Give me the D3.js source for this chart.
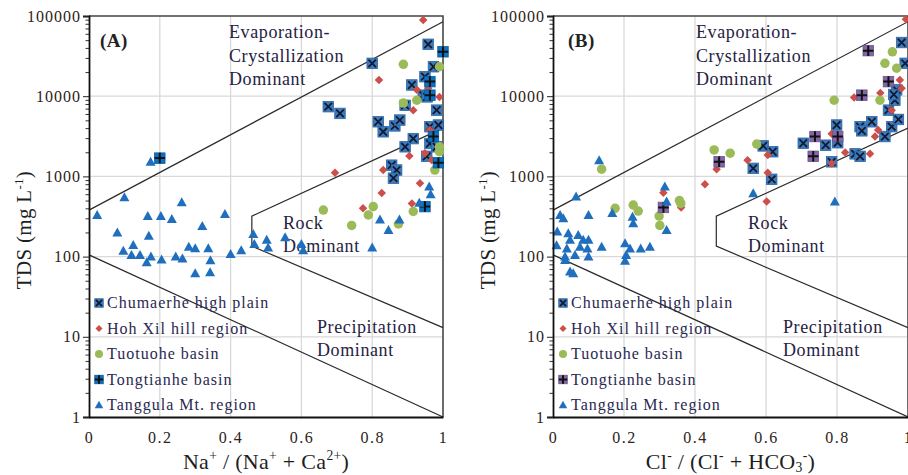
<!DOCTYPE html>
<html>
<head>
<meta charset="utf-8">
<script src="https://cdn.jsdelivr.net/npm/d3@7"></script>
<style>
  body { margin: 0; background: #fff; }
</style>
</head>
<body>
<div id="chart"></div>
<script>
// ---- data: [ratio, TDS mg/L] ----
var seriesNames = ["Chumaerhe high plain", "Hoh Xil hill region", "Tuotuohe basin", "Tongtianhe basin", "Tanggula Mt. region"];

// panel A : Na+/(Na+ + Ca2+)
var chumA = [[0.80,25700],[0.958,44400],[0.676,7400],[0.709,6100],[0.817,4800],[0.831,3600],[0.864,4260],[0.878,5040],
  [0.893,2340],[0.916,2960],[0.855,1380],[0.869,1200],[0.86,950],[0.912,13800],[0.949,17500],[0.973,23300],[0.944,10300],
  [0.982,6700],[0.963,4170],[0.987,4370],[0.963,2570],[0.982,2340],[0.954,1780],[0.893,7700],[0.955,9800]];
var hohA = [[0.944,89000],[0.819,15900],[0.926,12000],[0.916,6700],[0.99,9800],[0.958,12600],[0.695,1110],[0.831,1200],
  [0.905,1800],[0.827,620],[0.935,820],[0.774,400],[0.912,460],[0.949,1950],[0.968,1600],[0.963,3800]];
var tuoA = [[0.888,25000],[0.99,23300],[0.888,8200],[0.926,8900],[0.662,380],[0.742,245],[0.789,330],[0.803,420],
  [0.874,255],[0.916,365],[0.99,2340],[0.99,2030],[0.977,1200]];
var tongA = [[0.20,1690],[1.0,35800],[0.963,15200],[0.963,10300],[0.973,3140],[0.987,1480],[0.949,420]];
var tangA = [[0.174,1520],[0.10,550],[0.023,330],[0.262,475],[0.166,320],[0.203,320],[0.234,295],[0.384,340],[0.08,200],
  [0.169,182],[0.32,240],[0.097,118],[0.125,140],[0.12,105],[0.144,105],[0.163,85],[0.175,100],[0.205,92],[0.245,100],
  [0.264,95],[0.282,133],[0.30,127],[0.337,127],[0.343,90],[0.30,62],[0.342,64],[0.40,108],[0.43,120],[0.464,192],
  [0.467,144],[0.502,162],[0.506,130],[0.554,174],[0.60,144],[0.605,120],[0.80,130],[0.961,750],[0.965,600],[0.933,470],
  [0.822,290],[0.877,290],[0.846,215]];

// panel B : Cl-/(Cl- + HCO3-)
var chumB = [[0.592,2400],[0.619,2030],[0.564,1260],[0.616,920],[0.705,2590],[0.768,2450],[0.802,2630],[0.799,4370],
  [0.851,1910],[0.865,1780],[0.865,4170],[0.898,4800],[0.935,3140],[0.954,4170],[0.973,5130],[0.945,6700],[0.963,8900],
  [0.968,12000],[0.982,46700],[0.992,25700],[0.785,1520],[0.87,3700],[0.96,10500]];
var hohB = [[0.994,91000],[0.428,800],[0.461,1230],[0.548,1590],[0.605,1850],[0.605,1110],[0.602,485],[0.311,625],
  [0.361,410],[0.785,1450],[0.823,1990],[0.893,1910],[0.785,3400],[0.848,9600],[0.922,11000],[0.907,3140],[0.916,3800],
  [0.977,15900],[0.982,12600],[0.954,6700]];
var tuoB = [[0.137,1230],[0.175,400],[0.226,440],[0.24,370],[0.299,320],[0.301,245],[0.356,500],[0.36,460],[0.454,2140],
  [0.499,1950],[0.574,2530],[0.792,8900],[0.956,35800],[0.935,25700],[0.968,22300],[0.921,8900]];
var tongB = [[0.311,410],[0.468,1520],[0.888,37000],[0.945,15200],[0.87,10300],[0.738,3140],[0.802,3140],[0.733,1780]];
var tangB = [[0.130,1590],[0.065,560],[0.020,330],[0.029,300],[0.10,330],[0.167,350],[0.224,315],[0.226,260],[0.315,750],
  [0.32,485],[0.32,215],[0.012,205],[0.043,195],[0.048,162],[0.071,186],[0.085,162],[0.10,162],[0.01,139],[0.039,126],
  [0.076,133],[0.097,126],[0.137,133],[0.203,147],[0.217,126],[0.247,126],[0.273,133],[0.034,100],[0.062,105],[0.10,100],
  [0.206,105],[0.203,89],[0.048,65],[0.057,62],[0.034,91],[0.564,615],[0.794,485]];

// Gibbs boundary lines
var upperLine = [[0,380],[1,85000]];
var rockLine = [[1,4000],[0.46,320],[0.46,135],[1,13]];
var lowerLine = [[0,105],[1,1]];

var yTicks = [1,10,100,1000,10000,100000];
var xTicks = [0,0.2,0.4,0.6,0.8,1];

var W = 908, H = 475, plotTop = 16, plotBottom = 417;
var serif = '"Liberation Serif", "Times New Roman", serif';

var svg = d3.select("#chart").append("svg")
    .attr("width", W).attr("height", H);

// marker drawing
function marker(g, kind, color, s) {
  if (kind == "sqx" || kind == "sqp") {
    g.append("rect").attr("x", -s/2).attr("y", -s/2).attr("width", s).attr("height", s)
      .attr("fill", color).attr("stroke", d3.color(color).darker(0.6)).attr("stroke-width", 0.8);
    var a = s*0.36;
    if (kind == "sqx") {
      g.append("path").attr("d", "M"+(-a)+","+(-a)+"L"+a+","+a+"M"+(-a)+","+a+"L"+a+","+(-a))
        .attr("stroke", "#15192b").attr("stroke-width", 1.8);
    } else {
      var b = s*0.5;
      g.append("path").attr("d", "M"+(-b)+",0L"+b+",0M0,"+(-b)+"L0,"+b)
        .attr("stroke", "#111").attr("stroke-width", 2);
    }
  } else if (kind == "dia") {
    var r = s/2;
    g.append("path").attr("d", "M0,"+(-r)+"L"+r+",0L0,"+r+"L"+(-r)+",0Z").attr("fill", color);
  } else if (kind == "cir") {
    g.append("circle").attr("r", s/2).attr("fill", color);
  } else if (kind == "tri") {
    var h = s/2;
    g.append("path").attr("d", "M0,"+(-h-0.5)+"L"+(h+0.5)+","+(h-0.5)+"L"+(-h-0.5)+","+(h-0.5)+"Z").attr("fill", color);
  }
}

// text with super/subscripts: parts = [[text, "sup"|"sub"|""], ...]
function richText(t, parts, size) {
  var shift = 0;
  parts.forEach(function(p) {
    var target = p[1] == "sup" ? -size*0.4 : (p[1] == "sub" ? size*0.15 : 0);
    t.append("tspan")
      .attr("dy", target - shift)
      .style("font-size", p[1] ? (size*0.62)+"px" : size+"px")
      .text(p[0]);
    shift = target;
  });
}

function drawPanel(cfg) {
  var x = d3.scaleLinear().domain([0,1]).range([cfg.left, cfg.right]);
  var y = d3.scaleLog().domain([1,100000]).range([plotBottom, plotTop]);
  var g = svg.append("g");

  // grid
  g.append("g").selectAll("line").data(xTicks.slice(1)).enter().append("line")
    .attr("x1", function(d){ return x(d); }).attr("x2", function(d){ return x(d); })
    .attr("y1", plotTop).attr("y2", plotBottom)
    .attr("stroke", "#d9d9d9").attr("stroke-width", 1.3);
  g.append("g").selectAll("line").data(yTicks.slice(1,5)).enter().append("line")
    .attr("x1", cfg.left).attr("x2", cfg.right)
    .attr("y1", function(d){ return y(d); }).attr("y2", function(d){ return y(d); })
    .attr("stroke", "#d9d9d9").attr("stroke-width", 1.3);

  // frame (top / right)
  g.append("path")
    .attr("d", "M"+cfg.left+","+plotTop+"H"+cfg.right+"V"+plotBottom)
    .attr("fill", "none").attr("stroke", "#444").attr("stroke-width", 1.5);

  // boundary lines
  var line = d3.line().x(function(d){ return x(d[0]); }).y(function(d){ return y(d[1]); });
  [upperLine, rockLine, lowerLine].forEach(function(l) {
    g.append("path").attr("d", line(l)).attr("fill", "none")
      .attr("stroke", "#2a2a2a").attr("stroke-width", 1.2);
  });

  // region labels
  var ann = g.append("g").attr("fill", "#25223f");
  function annot(dx, yy, s) {
    ann.append("text").attr("x", cfg.left + dx).attr("y", yy)
      .style("font-size", "18px").style("letter-spacing", "0.6px").text(s);
  }
  annot(cfg.evapX, 38, "Evaporation-");
  annot(cfg.evapX, 62, "Crystallization");
  annot(cfg.evapX, 85, "Dominant");
  annot(cfg.rockX, 229, "Rock");
  annot(cfg.rockX, 252, "Dominant");
  annot(cfg.precX, 333, "Precipitation");
  annot(cfg.precX, 356, "Dominant");
  g.append("text").attr("x", cfg.left + cfg.tagX).attr("y", 47)
    .style("font-size", "19px").style("font-weight", "bold").style("letter-spacing", "0.5px")
    .attr("fill", "#222").text(cfg.tag);

  // points
  var kinds = ["sqx","dia","cir","sqp","tri"];
  var sizes = [10.5, 8.5, 9.5, 10.5, 9];
  cfg.series.forEach(function(data, i) {
    g.append("g").selectAll("g").data(data).enter().append("g")
      .attr("transform", function(d){ return "translate("+x(d[0])+","+y(d[1])+")"; })
      .each(function() { marker(d3.select(this), kinds[i], cfg.colors[i], sizes[i]); });
  });

  // Y axis
  var minor = [];
  yTicks.slice(0,5).forEach(function(d){ for (var m = 2; m < 10; m++) minor.push(d*m); });
  g.append("g").attr("transform", "translate("+cfg.left+",0)")
    .call(d3.axisLeft(y).tickValues(minor).tickSize(3.5).tickFormat(""))
    .call(function(a){ a.select(".domain").remove(); a.selectAll("line").attr("stroke", "#333"); });
  var ya = g.append("g").attr("transform", "translate("+cfg.left+",0)")
    .call(d3.axisLeft(y).tickValues(yTicks).tickSize(6).tickPadding(2).tickFormat(d3.format("d")));
  ya.select(".domain").attr("stroke", "#111").attr("stroke-width", 1.8);
  ya.selectAll("line").attr("stroke", "#222");
  ya.selectAll("text").style("font-size", "16px").style("letter-spacing", "1px").attr("fill", "#2b2320");

  // X axis
  var xa = g.append("g").attr("transform", "translate(0,"+plotBottom+")")
    .call(d3.axisBottom(x).tickValues(xTicks).tickSize(0).tickPadding(15)
      .tickFormat(function(d){ return d == 0 || d == 1 ? d : d3.format(".1f")(d); }));
  xa.select(".domain").attr("stroke", "#111").attr("stroke-width", 1.8);
  xa.selectAll("text").style("font-size", "16px").style("letter-spacing", "1.5px").attr("fill", "#2b2320");

  // axis titles
  var xt = g.append("text").attr("x", (cfg.left+cfg.right)/2).attr("y", 469)
    .attr("text-anchor", "middle").attr("fill", "#1e1e1e").style("letter-spacing", "0.3px");
  richText(xt, cfg.xTitle, 22);
  var yt = g.append("text").attr("transform", "translate("+(cfg.left-58)+",230) rotate(-90)")
    .attr("text-anchor", "middle").attr("fill", "#1e1e1e").style("letter-spacing", "0.3px");
  richText(yt, [["TDS (mg L",""],["-1","sup"],[")",""]], 21);

  // legend
  var lg = g.append("g");
  seriesNames.forEach(function(name, i) {
    var row = lg.append("g").attr("transform", "translate("+(cfg.left+10)+","+(303 + i*25.5)+")");
    marker(row.append("g"), kinds[i], cfg.colors[i], [8.5, 7, 8, 8.5, 7.5][i]);
    row.append("text").attr("x", 8).attr("y", 5).style("font-size", "16px").style("letter-spacing", "1px")
      .attr("fill", "#2a2850").text(name);
  });
}

drawPanel({
  left: 89, right: 443, tag: "(A)", tagX: 11, evapX: 140, rockX: 194, precX: 228,
  series: [chumA, hohA, tuoA, tongA, tangA],
  colors: ["#3a7cc2", "#cc5049", "#9bbb59", "#0a72c4", "#1f6fbe"],
  xTitle: [["Na",""],["+","sup"],[" / (Na",""],["+","sup"],[" + Ca",""],["2+","sup"],[")",""]]
});
drawPanel({
  left: 553, right: 908, tag: "(B)", tagX: 15, evapX: 143, rockX: 195, precX: 230,
  series: [chumB, hohB, tuoB, tongB, tangB],
  colors: ["#3a7cc2", "#cc5049", "#9bbb59", "#8466a8", "#1f6fbe"],
  xTitle: [["Cl",""],["-","sup"],[" / (Cl",""],["-","sup"],[" + HCO",""],["3","sub"],["-","sup"],[")",""]]
});

// one serif face for all text
svg.selectAll("text, tspan").style("font-family", serif);
</script>
</body>
</html>
